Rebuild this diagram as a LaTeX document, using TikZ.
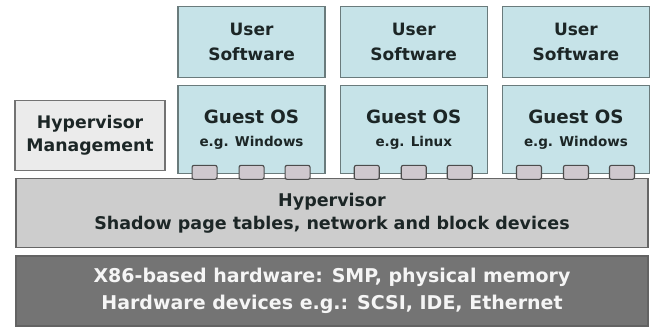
\documentclass[tikz,border=0pt]{standalone}
\usepackage{fontspec}
\setmainfont{DejaVu Sans}
\usetikzlibrary{positioning}
\definecolor{vmfill}{HTML}{C6E3E8}
\definecolor{vmline}{HTML}{6A7B7C}
\definecolor{mgmtfill}{HTML}{EBEBEB}
\definecolor{hvfill}{HTML}{CDCDCD}
\definecolor{hwfill}{HTML}{747474}
\definecolor{portfill}{HTML}{CFC8CE}
\definecolor{textdark}{HTML}{1C2626}
\tikzset{
    layer/.style={
           rectangle,
           draw=gray!80!black, line width=1.1pt,
           minimum width=632pt,
           minimum height=69pt,
           align=center,
           font=\bfseries\fontsize{17.5}{23}\selectfont,
           },
    vmbox/.style={
           rectangle,
           draw=vmline, fill=vmfill, line width=1.2pt,
           minimum width=147pt,
           text=textdark,
           align=center,
           font=\bfseries\fontsize{17}{25}\selectfont,
           },
    port/.style={
           rectangle,
           rounded corners=2pt,
           draw=black!70, fill=portfill, line width=1.1pt,
           minimum width=25pt,
           minimum height=14pt,
           inner sep=0pt,
           },
}

\begin{document}
\begin{tikzpicture}
	\useasboundingbox (0,0) rectangle (655pt,329pt);

	% hardware and hypervisor layers
	\node[layer,fill=hwfill,draw=hwfill!85!black,text=white!96!black,minimum height=70pt,
	      font=\bfseries\fontsize{19}{27}\selectfont] (hw) at (332pt,38pt)
			{X86-based hardware: SMP, physical memory\\
			 Hardware devices e.g.: SCSI, IDE, Ethernet};
	\node[layer,fill=hvfill,text=textdark] (hv) [above=7pt of hw]
			{Hypervisor\\
			 Shadow page tables, network and block devices};

	\node[vmbox,fill=mgmtfill,draw=gray!90!black,minimum width=150pt,minimum height=70pt,
	      anchor=south west,font=\bfseries\fontsize{17.3}{23}\selectfont] (mgmt)
	      [above right=7pt and -1pt of hv.north west]
			{Hypervisor\\Management};

	% guests
	\node[vmbox,minimum height=88pt,anchor=south west] (g1) [above right=4pt and 162pt of hv.north west]
			{{\fontsize{18.3}{22}\selectfont Guest OS}\\[-2pt]{\fontsize{13.5}{16}\selectfont e.g. Windows}};
	\node[vmbox,minimum height=88pt] (g2) [right=14pt of g1]
			{{\fontsize{18.3}{22}\selectfont Guest OS}\\[-2pt]{\fontsize{13.5}{16}\selectfont e.g. Linux}};
	\node[vmbox,minimum height=88pt] (g3) [right=14pt of g2]
			{{\fontsize{18.3}{22}\selectfont Guest OS}\\[-2pt]{\fontsize{13.5}{16}\selectfont e.g. Windows}};

	\node[vmbox,minimum height=71pt] (u1) [above=7pt of g1] {User\\Software};
	\node[vmbox,minimum height=71pt] (u2) [above=7pt of g2] {User\\Software};
	\node[vmbox,minimum height=71pt] (u3) [above=7pt of g3] {User\\Software};

	% ports of each guest
	\foreach \g in {g1,g2,g3}
		\foreach \dx [count=\i] in {-47,0,46}
			\node[port] (\g-p\i) at ([xshift=\dx pt,yshift=2pt]\g.south) {};

\end{tikzpicture}
\end{document}
